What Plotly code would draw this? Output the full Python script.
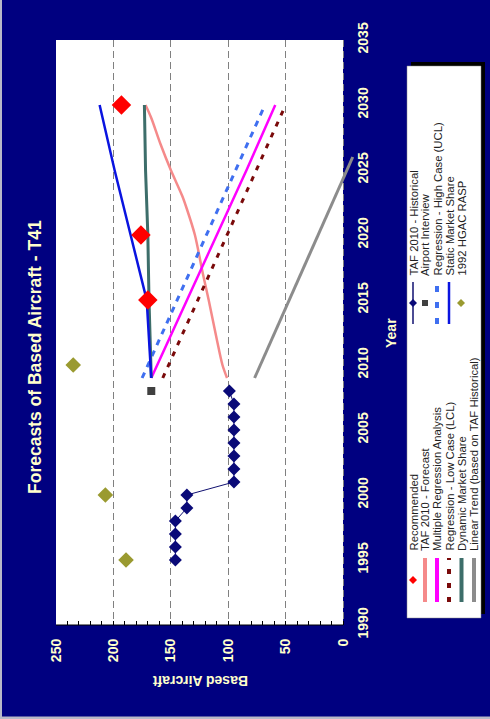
import plotly.graph_objects as go

# ---------------- data ----------------
hist_years = list(range(1995, 2009))
hist_vals = [146, 146, 146, 146, 136, 136, 95, 95, 95, 95, 95, 95, 95, 99]

hgac_years = [1995, 2000, 2010]
hgac_vals = [189, 207, 235]

airport_years = [2008]
airport_vals = [167]

rec_years = [2015, 2020, 2030]
rec_vals = [170, 176, 193]

static_years = [2009, 2015, 2020, 2025, 2030]
static_vals = [167, 171, 185, 199, 212]

dynamic_years = [2009, 2015, 2020, 2025, 2030]
dynamic_vals = [167, 169, 170, 172, 173]

taf_fc_years = [2009, 2010, 2012, 2015, 2017, 2020, 2022, 2023, 2025, 2027, 2029, 2030]
taf_fc_vals = [101, 105, 110, 117, 122, 129, 136, 140, 150, 159, 167, 172]

mra_years = [2009, 2015, 2020, 2025, 2030]
mra_vals = [167, 136, 110, 84, 59]

high_years = [2009, 2030]
high_vals = [175, 68]

low_years = [2009, 2030]
low_vals = [157, 50]

trend_years = [2009, 2026]
trend_vals = [77, -8.5]

value_ticks = [0, 50, 100, 150, 200, 250]
year_ticks = list(range(1990, 2036, 5))

legend_left = ["Recommended", "TAF 2010 - Forecast", "Multiple Regression Analysis",
               "Regression - Low Case (LCL)", "Dynamic Market Share",
               "Linear Trend (based on TAF Historical)"]
legend_right = ["TAF 2010 - Historical", "Airport Interview", "Regression - High Case (UCL)",
                "Static Market Share", "1992 HGAC RASP"]

# ---------------- styles ----------------
NAVY = "#000080"
CREAM = "#FFFFCC"
FONT = "Arial, Liberation Sans, sans-serif"
W, H = 490, 719
L, R, T, B = 56, 343, 40, 625      # white chart area (250 .. 0)
R_EXT = 356                        # drawing area extends a little past 0
VMIN = -(R_EXT - R) / ((R - L) / 250.0)


def px(x):
    return (x - L) / (R_EXT - L)


def py(y):
    return (B - y) / (B - T)


fig = go.Figure()

fig.add_trace(go.Scatter(x=trend_vals, y=trend_years, mode="lines",
                         line=dict(color="#8C8C8C", width=3)))
fig.add_trace(go.Scatter(x=taf_fc_vals, y=taf_fc_years, mode="lines",
                         line=dict(color="#F58A8A", width=2.5, shape="spline", smoothing=0.8)))
fig.add_trace(go.Scatter(x=low_vals, y=low_years, mode="lines",
                         line=dict(color="#7A0A0A", width=3, dash="5px,7px")))
fig.add_trace(go.Scatter(x=high_vals, y=high_years, mode="lines",
                         line=dict(color="#3F6FF0", width=3, dash="6px,6px")))
fig.add_trace(go.Scatter(x=mra_vals, y=mra_years, mode="lines",
                         line=dict(color="#FF00FF", width=2.5)))
fig.add_trace(go.Scatter(x=dynamic_vals, y=dynamic_years, mode="lines",
                         line=dict(color="#3D6E6A", width=3)))
fig.add_trace(go.Scatter(x=static_vals, y=static_years, mode="lines",
                         line=dict(color="#0A14E0", width=2.5)))
fig.add_trace(go.Scatter(x=hist_vals, y=hist_years, mode="lines+markers",
                         line=dict(color="#101070", width=1),
                         marker=dict(symbol="diamond", size=10, color="#0A0A78")))
fig.add_trace(go.Scatter(x=airport_vals, y=airport_years, mode="markers",
                         marker=dict(symbol="square", size=8, color="#404040")))
fig.add_trace(go.Scatter(x=hgac_vals, y=hgac_years, mode="markers",
                         marker=dict(symbol="diamond", size=12, color="#9A9A30")))
fig.add_trace(go.Scatter(x=rec_vals, y=rec_years, mode="markers",
                         marker=dict(symbol="diamond", size=15, color="#FF0000")))

shapes = []
annotations = []

# navy strip beyond the value 0 (above grid, below traces)
shapes.append(dict(type="rect", xref="x", yref="paper", x0=0, x1=VMIN - 1, y0=-0.01, y1=1.01,
                   fillcolor=NAVY, line=dict(width=0), layer="between"))

# legend box with shadow
shapes.append(dict(type="rect", xref="paper", yref="paper",
                   x0=px(411), x1=px(485), y0=py(614), y1=py(62),
                   fillcolor="black", line=dict(width=0), layer="above"))
shapes.append(dict(type="rect", xref="paper", yref="paper",
                   x0=px(407), x1=px(481), y0=py(618), y1=py(66),
                   fillcolor="white", line=dict(width=0.5, color="#888"), layer="above"))


def seg(x, y0, y1, color, width, dash="solid"):
    shapes.append(dict(type="line", xref="paper", yref="paper",
                       x0=px(x), x1=px(x), y0=py(y0), y1=py(y1),
                       line=dict(color=color, width=width, dash=dash), layer="above"))


def diamond(cx, cy, r, color):
    path = (f"M {px(cx)},{py(cy - r)} L {px(cx + r)},{py(cy)} "
            f"L {px(cx)},{py(cy + r)} L {px(cx - r)},{py(cy)} Z")
    shapes.append(dict(type="path", xref="paper", yref="paper", path=path,
                       fillcolor=color, line=dict(width=0), layer="above"))


def square(cx, cy, r, color):
    shapes.append(dict(type="rect", xref="paper", yref="paper",
                       x0=px(cx - r), x1=px(cx + r), y0=py(cy + r), y1=py(cy - r),
                       fillcolor=color, line=dict(width=0), layer="above"))


left_x = [413, 425, 437, 449, 461.5, 474]
right_x = [413, 425, 437, 449, 461]
LY0, LY1, LTXT = 602, 558, 553
RY0, RY1, RTXT = 324, 282, 278
lmid = (LY0 + LY1) / 2
rmid = (RY0 + RY1) / 2

# left column symbols
diamond(left_x[0], lmid, 4, "#FF0000")
seg(left_x[1], LY0, LY1, "#F58A8A", 4)
seg(left_x[2], LY0, LY1, "#FF00FF", 4)
seg(left_x[3], LY0, LY1, "#7A0A0A", 4, "5px,9px")
seg(left_x[4], LY0, LY1, "#3D6E6A", 4)
seg(left_x[5], LY0, LY1, "#8C8C8C", 4)
# right column symbols
seg(right_x[0], RY0, RY1, "#101070", 1.5)
diamond(right_x[0], rmid, 4, "#0A0A78")
square(right_x[1], rmid, 3, "#404040")
seg(right_x[2], RY0, RY1, "#3F6FF0", 4, "6px,10px")
seg(right_x[3], RY0, RY1, "#0A14E0", 2.5)
diamond(right_x[4], rmid, 4, "#9A9A30")

for xx, txt in zip(left_x, legend_left):
    annotations.append(dict(xref="paper", yref="paper", x=px(xx), y=py(LTXT),
                            text=txt, showarrow=False, textangle=-90,
                            xanchor="center", yanchor="bottom",
                            font=dict(family=FONT, size=11.3, color="#222")))
for xx, txt in zip(right_x, legend_right):
    annotations.append(dict(xref="paper", yref="paper", x=px(xx), y=py(RTXT),
                            text=txt, showarrow=False, textangle=-90,
                            xanchor="center", yanchor="bottom",
                            font=dict(family=FONT, size=11.3, color="#222")))

# title & axis titles
annotations.append(dict(xref="paper", yref="paper", x=px(35), y=py(357),
                        text="<b>Forecasts of Based Aircraft - T41</b>", showarrow=False,
                        textangle=-90, xanchor="center", yanchor="middle",
                        font=dict(family=FONT, size=17.5, color=CREAM)))
annotations.append(dict(xref="paper", yref="paper", x=px(391), y=py(333),
                        text="<b>Year</b>", showarrow=False, textangle=-90,
                        xanchor="center", yanchor="middle",
                        font=dict(family=FONT, size=14, color=CREAM)))
annotations.append(dict(xref="paper", yref="paper", x=px(200), y=py(681),
                        text="<b>Based Aircraft</b>", showarrow=False, textangle=180,
                        xanchor="center", yanchor="middle",
                        font=dict(family=FONT, size=14, color=CREAM)))

# thin outer frame (left / bottom)
shapes.append(dict(type="line", xref="paper", yref="paper",
                   x0=px(1), x1=px(1), y0=py(0), y1=py(719),
                   line=dict(color="#B8B8C8", width=2), layer="above"))
shapes.append(dict(type="line", xref="paper", yref="paper",
                   x0=px(0), x1=px(490), y0=py(718), y1=py(718),
                   line=dict(color="#B8B8C8", width=3), layer="above"))

fig.update_layout(
    width=W, height=H,
    margin=dict(l=L, r=W - R_EXT, t=T, b=H - B, pad=0),
    paper_bgcolor=NAVY, plot_bgcolor="white",
    showlegend=False,
    shapes=shapes, annotations=annotations,
    font=dict(family=FONT),
    xaxis=dict(range=[250, VMIN], tickvals=value_ticks, tickangle=-90,
               tickfont=dict(family=FONT, size=14, color=CREAM, weight="bold"),
               ticks="inside", ticklen=4, tickcolor="black",
               minor=dict(tickvals=list(range(10, 250, 10)), ticks="inside", ticklen=4,
                          tickcolor="black", showgrid=False),
               showline=False,
               showgrid=True, gridcolor="#808080", griddash="7px,4px", gridwidth=1,
               zeroline=False, ticklabelstandoff=10, fixedrange=True),
    yaxis=dict(range=[1990, 2035], tickvals=year_ticks, side="right", tickangle=-90,
               anchor="free", position=px(R),
               tickfont=dict(family=FONT, size=14, color=CREAM, weight="bold"),
               ticks="", showline=False, showgrid=False, zeroline=False,
               ticklabelstandoff=10, fixedrange=True),
)

# black baseline of the value axis (only under the white area)
fig.add_shape(type="line", xref="x", yref="paper", x0=250, x1=0, y0=0, y1=0,
              line=dict(color="black", width=1), layer="above")

fig.write_html("out.html", config={"displayModeBar": False},
               post_script="document.body.style.margin='0';document.body.style.overflow='hidden';")
